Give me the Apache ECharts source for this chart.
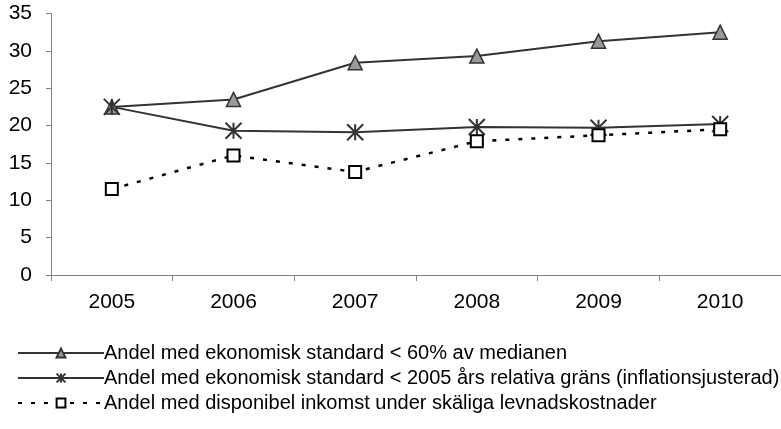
<!DOCTYPE html>
<html><head><meta charset="utf-8">
<script src="https://cdn.jsdelivr.net/npm/echarts@6/dist/echarts.min.js"></script>
<style>html,body{margin:0;padding:0;background:#fff}#c{width:781px;height:429px}</style>
</head><body><div id="c"></div>
<script>
var years = ['2005','2006','2007','2008','2009','2010'];
var nameA = 'Andel med ekonomisk standard < 60% av medianen';
var nameB = 'Andel med ekonomisk standard < 2005 års relativa gräns (inflationsjusterad)';
var nameC = 'Andel med disponibel inkomst under skäliga levnadskostnader';
var valuesA = [22.5, 23.5, 28.4, 29.3, 31.3, 32.5];
var valuesB = [22.5, 19.3, 19.1, 19.8, 19.7, 20.2];
var valuesC = [11.5, 16.0, 13.8, 17.9, 18.7, 19.5];
var yTicks = [0, 5, 10, 15, 20, 25, 30, 35];

var star = 'path://M0,0L10,10M10,0L0,10M5,0L5,10';
var chart = echarts.init(document.getElementById('c'));
chart.setOption({
  animation: false,
  textStyle: {fontFamily: 'Liberation Sans, Arial, sans-serif'},
  grid: {left: 51, right: 0, top: 13.5, bottom: 154},
  xAxis: {
    type: 'category', data: years, boundaryGap: true,
    axisLine: {lineStyle: {color: '#808080', width: 1}},
    axisTick: {show: true, length: 6, lineStyle: {color: '#808080'}},
    axisLabel: {color: '#000', fontSize: 21, margin: 17}
  },
  yAxis: {
    type: 'value', min: yTicks[0], max: yTicks[yTicks.length-1], interval: 5,
    axisLine: {show: true, lineStyle: {color: '#808080', width: 1}},
    axisTick: {show: true, length: 5, lineStyle: {color: '#808080'}},
    splitLine: {show: false},
    axisLabel: {color: '#000', fontSize: 21, margin: 19}
  },
  legend: {
    orient: 'vertical', left: 12, top: 338, itemGap: 5,
    itemWidth: 86, itemHeight: 11,
    textStyle: {fontSize: 20, color: '#000', padding: [0,0,0,-5]},
    data: [nameA, nameB, nameC]
  },
  series: [
    {name: nameA, type: 'line', data: valuesA, symbol: 'triangle', symbolSize: 14,
     lineStyle: {color: '#333', width: 2},
     itemStyle: {color: '#999', borderColor: '#333', borderWidth: 1.5}},
    {name: nameB, type: 'line', data: valuesB, symbol: star, symbolSize: 16,
     lineStyle: {color: '#333', width: 2},
     itemStyle: {color: '#333', borderColor: '#333', borderWidth: 2}},
    {name: nameC, type: 'line', data: valuesC, symbol: 'rect', symbolSize: 12,
     lineStyle: {color: '#000', width: 2.5, type: [4, 9]},
     itemStyle: {color: '#fff', borderColor: '#000', borderWidth: 2}}
  ]
});
</script></body></html>
